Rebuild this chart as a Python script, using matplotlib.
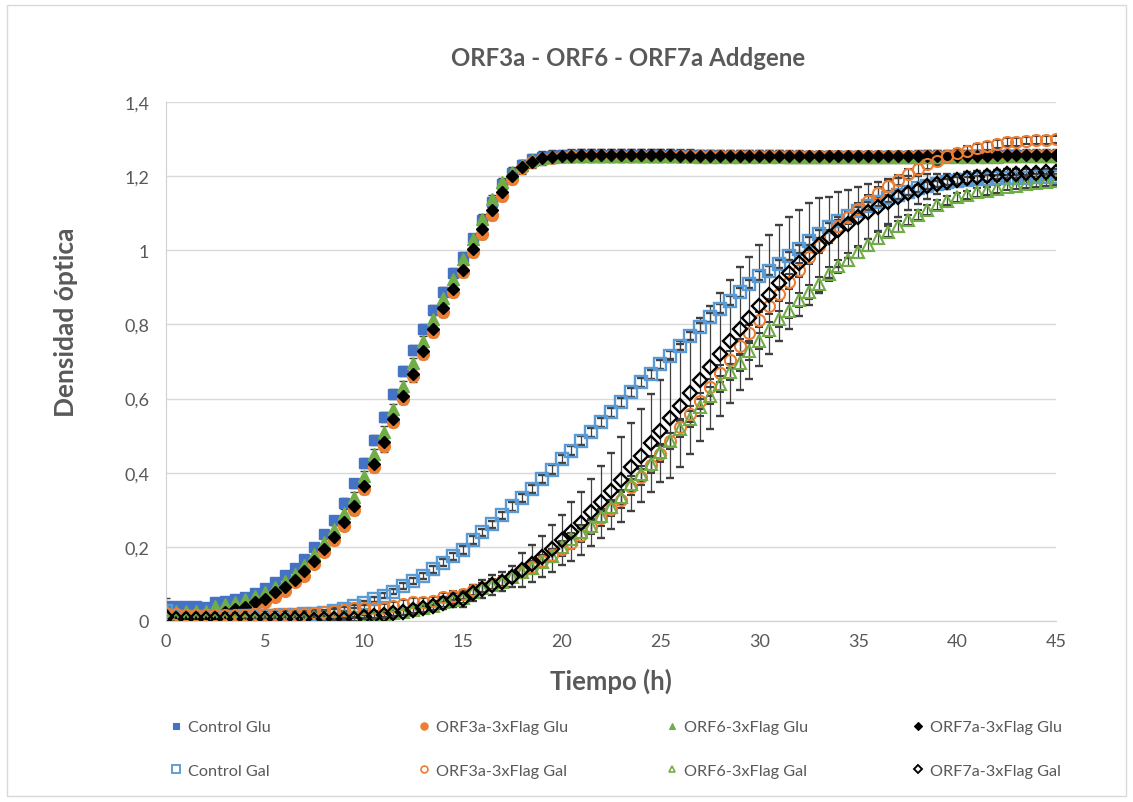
#%% imports
import numpy as np
import matplotlib
matplotlib.use("Agg")
import matplotlib.pyplot as plt
from matplotlib.patches import Rectangle
from matplotlib.lines import Line2D

#%% data: optical density every 0.5 h, 0-45 h
tiempo = np.arange(0, 45.5, 0.5)

control_glu = [
    0.041, 0.041, 0.040, 0.040, 0.038, 0.050, 0.054, 0.058, 0.065, 0.075,
    0.088, 0.105, 0.124, 0.144, 0.168, 0.200, 0.234, 0.272, 0.319, 0.371,
    0.427, 0.488, 0.551, 0.612, 0.674, 0.731, 0.787, 0.839, 0.888, 0.938,
    0.983, 1.032, 1.082, 1.131, 1.178, 1.208, 1.230, 1.246, 1.252, 1.255,
    1.256, 1.257, 1.257, 1.258, 1.258, 1.258, 1.258, 1.257, 1.257, 1.257,
    1.257, 1.256, 1.256, 1.256, 1.256, 1.256, 1.255, 1.255, 1.255, 1.255,
    1.255, 1.255, 1.255, 1.254, 1.254, 1.254, 1.254, 1.254, 1.254, 1.254,
    1.254, 1.254, 1.254, 1.254, 1.254, 1.254, 1.254, 1.255, 1.255, 1.255,
    1.255, 1.255, 1.256, 1.256, 1.256, 1.256, 1.256, 1.257, 1.257, 1.257,
    1.257]
orf3a_glu = [
    0.012, 0.008, 0.005, 0.005, 0.004, 0.003, 0.010, 0.020, 0.030, 0.040,
    0.050, 0.064, 0.082, 0.104, 0.122, 0.154, 0.185, 0.218, 0.257, 0.300,
    0.356, 0.415, 0.471, 0.536, 0.599, 0.660, 0.720, 0.779, 0.834, 0.887,
    0.941, 0.995, 1.044, 1.095, 1.146, 1.192, 1.221, 1.237, 1.246, 1.250,
    1.252, 1.253, 1.254, 1.254, 1.255, 1.255, 1.255, 1.255, 1.255, 1.255,
    1.255, 1.255, 1.255, 1.254, 1.254, 1.254, 1.254, 1.254, 1.254, 1.254,
    1.254, 1.254, 1.254, 1.254, 1.254, 1.253, 1.253, 1.253, 1.253, 1.253,
    1.253, 1.253, 1.253, 1.253, 1.253, 1.253, 1.254, 1.254, 1.254, 1.254,
    1.254, 1.254, 1.255, 1.255, 1.255, 1.255, 1.255, 1.256, 1.256, 1.256,
    1.256]
orf6_glu = [
    0.030, 0.028, 0.028, 0.027, 0.028, 0.040, 0.046, 0.050, 0.059, 0.067,
    0.077, 0.091, 0.109, 0.127, 0.151, 0.181, 0.212, 0.248, 0.290, 0.334,
    0.392, 0.450, 0.511, 0.572, 0.633, 0.696, 0.756, 0.815, 0.870, 0.923,
    0.977, 1.030, 1.084, 1.137, 1.183, 1.212, 1.230, 1.243, 1.250, 1.252,
    1.253, 1.254, 1.254, 1.254, 1.254, 1.254, 1.254, 1.253, 1.253, 1.253,
    1.253, 1.253, 1.253, 1.253, 1.252, 1.252, 1.252, 1.252, 1.252, 1.252,
    1.252, 1.252, 1.252, 1.251, 1.251, 1.251, 1.251, 1.251, 1.251, 1.251,
    1.251, 1.251, 1.251, 1.251, 1.251, 1.251, 1.251, 1.251, 1.252, 1.252,
    1.252, 1.252, 1.252, 1.252, 1.252, 1.253, 1.253, 1.253, 1.253, 1.253,
    1.253]
orf7a_glu = [
    0.015, 0.012, 0.010, 0.010, 0.010, 0.016, 0.025, 0.032, 0.037, 0.052,
    0.059, 0.077, 0.091, 0.111, 0.136, 0.163, 0.194, 0.226, 0.266, 0.311,
    0.365, 0.424, 0.482, 0.545, 0.606, 0.666, 0.729, 0.788, 0.843, 0.896,
    0.948, 1.003, 1.057, 1.110, 1.158, 1.200, 1.224, 1.239, 1.248, 1.252,
    1.254, 1.255, 1.256, 1.256, 1.256, 1.256, 1.256, 1.256, 1.256, 1.256,
    1.256, 1.256, 1.255, 1.255, 1.255, 1.255, 1.255, 1.255, 1.255, 1.255,
    1.255, 1.255, 1.255, 1.255, 1.255, 1.254, 1.254, 1.254, 1.254, 1.254,
    1.254, 1.254, 1.254, 1.254, 1.254, 1.254, 1.255, 1.255, 1.255, 1.255,
    1.255, 1.255, 1.255, 1.255, 1.256, 1.256, 1.256, 1.256, 1.256, 1.256,
    1.256]
control_gal = [
    0.027, 0.012, 0.010, 0.010, 0.010, 0.011, 0.012, 0.012, 0.013, 0.013,
    0.014, 0.014, 0.015, 0.016, 0.018, 0.020, 0.022, 0.026, 0.032, 0.040,
    0.049, 0.058, 0.068, 0.079, 0.095, 0.108, 0.121, 0.139, 0.157, 0.174,
    0.191, 0.219, 0.239, 0.261, 0.285, 0.309, 0.332, 0.356, 0.382, 0.408,
    0.437, 0.459, 0.486, 0.509, 0.536, 0.563, 0.590, 0.617, 0.644, 0.666,
    0.693, 0.716, 0.743, 0.770, 0.792, 0.819, 0.842, 0.864, 0.887, 0.909,
    0.931, 0.945, 0.963, 0.985, 1.003, 1.026, 1.044, 1.062, 1.080, 1.093,
    1.107, 1.120, 1.129, 1.140, 1.149, 1.158, 1.167, 1.174, 1.179, 1.184,
    1.188, 1.190, 1.192, 1.193, 1.194, 1.195, 1.196, 1.196, 1.197, 1.197,
    1.198]
orf3a_gal = [
    0.022, 0.018, 0.015, 0.015, 0.015, 0.015, 0.016, 0.016, 0.017, 0.018,
    0.018, 0.019, 0.019, 0.020, 0.020, 0.021, 0.023, 0.027, 0.031, 0.034,
    0.036, 0.036, 0.036, 0.041, 0.046, 0.050, 0.052, 0.055, 0.064, 0.068,
    0.072, 0.084, 0.090, 0.100, 0.108, 0.118, 0.131, 0.145, 0.163, 0.177,
    0.193, 0.211, 0.232, 0.253, 0.277, 0.302, 0.327, 0.361, 0.388, 0.421,
    0.450, 0.486, 0.523, 0.558, 0.594, 0.630, 0.668, 0.705, 0.741, 0.777,
    0.813, 0.849, 0.882, 0.915, 0.948, 0.981, 1.011, 1.038, 1.065, 1.089,
    1.111, 1.134, 1.155, 1.174, 1.190, 1.206, 1.219, 1.233, 1.242, 1.253,
    1.262, 1.269, 1.275, 1.282, 1.287, 1.291, 1.293, 1.296, 1.297, 1.298,
    1.299]
orf6_gal = [
    0.010, 0.006, 0.005, 0.005, 0.005, 0.005, 0.005, 0.005, 0.006, 0.006,
    0.007, 0.007, 0.008, 0.008, 0.009, 0.010, 0.011, 0.012, 0.013, 0.014,
    0.015, 0.016, 0.018, 0.022, 0.025, 0.031, 0.034, 0.040, 0.050, 0.057,
    0.061, 0.078, 0.088, 0.097, 0.106, 0.118, 0.131, 0.143, 0.158, 0.176,
    0.199, 0.221, 0.241, 0.257, 0.284, 0.307, 0.334, 0.370, 0.397, 0.424,
    0.455, 0.486, 0.518, 0.545, 0.576, 0.608, 0.639, 0.671, 0.696, 0.727,
    0.756, 0.786, 0.815, 0.837, 0.866, 0.888, 0.909, 0.936, 0.957, 0.975,
    0.995, 1.014, 1.033, 1.050, 1.065, 1.082, 1.095, 1.109, 1.122, 1.134,
    1.143, 1.149, 1.156, 1.161, 1.165, 1.172, 1.174, 1.179, 1.182, 1.183,
    1.186]
orf7a_gal = [
    0.012, 0.006, 0.006, 0.006, 0.006, 0.006, 0.006, 0.006, 0.006, 0.006,
    0.006, 0.006, 0.006, 0.006, 0.005, 0.004, 0.005, 0.005, 0.006, 0.005,
    0.010, 0.013, 0.015, 0.022, 0.025, 0.031, 0.034, 0.040, 0.048, 0.057,
    0.059, 0.076, 0.086, 0.097, 0.106, 0.120, 0.138, 0.154, 0.173, 0.195,
    0.218, 0.241, 0.264, 0.293, 0.322, 0.351, 0.381, 0.416, 0.446, 0.480,
    0.513, 0.547, 0.581, 0.615, 0.651, 0.684, 0.720, 0.754, 0.788, 0.817,
    0.851, 0.880, 0.911, 0.939, 0.966, 0.990, 1.014, 1.035, 1.056, 1.071,
    1.089, 1.104, 1.118, 1.131, 1.143, 1.155, 1.163, 1.173, 1.179, 1.185,
    1.190, 1.195, 1.199, 1.201, 1.204, 1.206, 1.207, 1.208, 1.209, 1.210,
    1.210]

#%% error bars (standard deviation)
err_glu = [
    0.020, 0.010, 0.008, 0.008, 0.008, 0.008, 0.008, 0.008, 0.008, 0.008,
    0.008, 0.008, 0.009, 0.009, 0.010, 0.010, 0.011, 0.012, 0.012, 0.013,
    0.013, 0.013, 0.014, 0.014, 0.014, 0.014, 0.014, 0.014, 0.013, 0.013,
    0.013, 0.013, 0.013, 0.013, 0.013, 0.014, 0.014, 0.015, 0.015, 0.015,
    0.015, 0.016, 0.016, 0.016, 0.016, 0.016, 0.016, 0.016, 0.016, 0.016,
    0.016, 0.016, 0.016, 0.016, 0.015, 0.015, 0.015, 0.015, 0.015, 0.015,
    0.015, 0.015, 0.015, 0.015, 0.015, 0.015, 0.015, 0.015, 0.015, 0.015,
    0.015, 0.015, 0.015, 0.015, 0.015, 0.015, 0.015, 0.015, 0.015, 0.015,
    0.015, 0.015, 0.015, 0.015, 0.015, 0.015, 0.015, 0.015, 0.015, 0.015,
    0.015]
err_control_gal = [
    0.015, 0.006, 0.005, 0.005, 0.005, 0.005, 0.005, 0.005, 0.005, 0.005,
    0.005, 0.005, 0.005, 0.005, 0.005, 0.005, 0.005, 0.006, 0.006, 0.006,
    0.006, 0.006, 0.007, 0.007, 0.008, 0.008, 0.008, 0.009, 0.009, 0.009,
    0.010, 0.010, 0.010, 0.010, 0.010, 0.011, 0.011, 0.011, 0.011, 0.012,
    0.012, 0.012, 0.012, 0.012, 0.012, 0.012, 0.012, 0.012, 0.012, 0.012,
    0.012, 0.012, 0.012, 0.012, 0.012, 0.012, 0.012, 0.012, 0.012, 0.012,
    0.012, 0.012, 0.011, 0.011, 0.011, 0.011, 0.011, 0.011, 0.011, 0.010,
    0.010, 0.010, 0.010, 0.010, 0.010, 0.010, 0.010, 0.009, 0.009, 0.009,
    0.009, 0.009, 0.009, 0.009, 0.008, 0.008, 0.008, 0.008, 0.008, 0.008,
    0.008]
err_orf3a_gal = [
    0.012, 0.008, 0.008, 0.008, 0.008, 0.008, 0.008, 0.008, 0.008, 0.008,
    0.008, 0.008, 0.008, 0.008, 0.008, 0.008, 0.008, 0.009, 0.009, 0.009,
    0.009, 0.010, 0.010, 0.010, 0.010, 0.011, 0.011, 0.011, 0.012, 0.012,
    0.012, 0.013, 0.013, 0.014, 0.014, 0.015, 0.015, 0.016, 0.016, 0.017,
    0.018, 0.018, 0.019, 0.019, 0.020, 0.020, 0.021, 0.021, 0.022, 0.022,
    0.022, 0.022, 0.022, 0.022, 0.022, 0.022, 0.022, 0.022, 0.021, 0.021,
    0.021, 0.020, 0.020, 0.020, 0.019, 0.019, 0.018, 0.018, 0.017, 0.017,
    0.016, 0.016, 0.015, 0.015, 0.014, 0.014, 0.013, 0.013, 0.012, 0.012,
    0.012, 0.012, 0.011, 0.011, 0.011, 0.011, 0.011, 0.010, 0.010, 0.010,
    0.010]
err_orf6_gal = [
    0.008, 0.006, 0.006, 0.006, 0.006, 0.006, 0.006, 0.006, 0.006, 0.006,
    0.006, 0.006, 0.006, 0.006, 0.006, 0.006, 0.006, 0.007, 0.007, 0.007,
    0.007, 0.008, 0.008, 0.008, 0.009, 0.009, 0.010, 0.010, 0.011, 0.011,
    0.012, 0.012, 0.013, 0.013, 0.014, 0.014, 0.015, 0.015, 0.016, 0.016,
    0.017, 0.017, 0.018, 0.018, 0.019, 0.019, 0.020, 0.020, 0.021, 0.021,
    0.022, 0.022, 0.022, 0.022, 0.022, 0.022, 0.022, 0.022, 0.022, 0.022,
    0.021, 0.021, 0.021, 0.020, 0.020, 0.019, 0.019, 0.018, 0.018, 0.017,
    0.017, 0.016, 0.016, 0.015, 0.015, 0.014, 0.014, 0.013, 0.013, 0.012,
    0.012, 0.012, 0.011, 0.011, 0.011, 0.010, 0.010, 0.010, 0.010, 0.010,
    0.010]
err_orf7a_gal = [
    0.010, 0.006, 0.005, 0.005, 0.005, 0.005, 0.005, 0.005, 0.005, 0.005,
    0.005, 0.005, 0.005, 0.005, 0.005, 0.005, 0.005, 0.006, 0.006, 0.006,
    0.007, 0.008, 0.008, 0.010, 0.010, 0.012, 0.012, 0.014, 0.016, 0.018,
    0.020, 0.022, 0.024, 0.026, 0.026, 0.028, 0.045, 0.050, 0.055, 0.063,
    0.067, 0.079, 0.085, 0.090, 0.097, 0.103, 0.115, 0.119, 0.126, 0.133,
    0.137, 0.160, 0.166, 0.164, 0.166, 0.166, 0.166, 0.166, 0.166, 0.164,
    0.162, 0.160, 0.157, 0.151, 0.142, 0.137, 0.128, 0.110, 0.101, 0.092,
    0.081, 0.074, 0.065, 0.061, 0.053, 0.045, 0.038, 0.034, 0.027, 0.020,
    0.016, 0.015, 0.014, 0.013, 0.012, 0.012, 0.011, 0.011, 0.010, 0.010,
    0.010]

labels = ["Control Glu", "ORF3a-3xFlag Glu", "ORF6-3xFlag Glu", "ORF7a-3xFlag Glu",
          "Control Gal", "ORF3a-3xFlag Gal", "ORF6-3xFlag Gal", "ORF7a-3xFlag Gal"]
y_ticks = [0, 0.2, 0.4, 0.6, 0.8, 1.0, 1.2, 1.4]
y_tick_labels = ["0", "0,2", "0,4", "0,6", "0,8", "1", "1,2", "1,4"]
x_ticks = [0, 5, 10, 15, 20, 25, 30, 35, 40, 45]

#%% styles
plt.rcParams['font.family'] = ['Lato', 'DejaVu Sans']
gray_txt = "#595959"
series = [
    (control_glu, err_glu, dict(marker="s", ms=7.5, mfc="#4472C4", mec="#4472C4", mew=1)),
    (orf3a_glu, err_glu, dict(marker="o", ms=8.5, mfc="#ED7D31", mec="#ED7D31", mew=1)),
    (orf6_glu, err_glu, dict(marker="^", ms=8, mfc="#70AD47", mec="#70AD47", mew=1)),
    (orf7a_glu, err_glu, dict(marker="D", ms=6.5, mfc="black", mec="black", mew=1)),
    (control_gal, err_control_gal, dict(marker="s", ms=8.5, mfc="none", mec="#5B9BD5", mew=1.7)),
    (orf3a_gal, err_orf3a_gal, dict(marker="o", ms=8, mfc="none", mec="#ED7D31", mew=1.5)),
    (orf6_gal, err_orf6_gal, dict(marker="^", ms=8, mfc="none", mec="#70AD47", mew=1.5)),
    (orf7a_gal, err_orf7a_gal, dict(marker="D", ms=7, mfc="none", mec="black", mew=1.7)),
]

#%% plot
fig = plt.figure(figsize=(11.33, 8.03), dpi=100)
ax = fig.add_axes([166 / 1133, 1 - 622 / 803, (1056 - 166) / 1133, (622 - 103) / 803])

for vals, err, st in series:
    ax.errorbar(tiempo, vals, yerr=err, linestyle="none", ecolor="#404040",
                elinewidth=0.9, capsize=3, capthick=0.9, **st)

ax.set_xlim(0, 45)
ax.set_ylim(0, 1.4)
ax.set_xticks(x_ticks)
ax.set_yticks(y_ticks)
ax.set_yticklabels(y_tick_labels)
ax.tick_params(length=0, labelsize=13, labelcolor=gray_txt)
ax.tick_params(axis="x", pad=9)
ax.tick_params(axis="y", pad=12)
ax.grid(axis="y", color="#D9D9D9", linewidth=1)
ax.set_axisbelow(True)
for s in ["top", "right"]:
    ax.spines[s].set_visible(False)
ax.spines["left"].set_color("#D0D0D0")
ax.spines["bottom"].set_color("#D0D0D0")

fig.text(628 / 1133, 1 - 58 / 803, "ORF3a - ORF6 - ORF7a Addgene", ha="center", va="center",
         fontsize=17.3, fontweight="bold", color=gray_txt)
fig.text(611 / 1133, 1 - 681 / 803, "Tiempo (h)", ha="center", va="center",
         fontsize=18.5, fontweight="bold", color=gray_txt)
fig.text(66 / 1133, 1 - 322 / 803, "Densidad óptica", ha="center", va="center",
         rotation=90, fontsize=19, fontweight="bold", color=gray_txt)

# legend: four columns, Glu on top row, Gal below
col_x = [170, 418, 666, 912]
for k in range(4):
    hs = []
    for j in (k, k + 4):
        st = dict(series[j][2])
        st["ms"] = st["ms"] * 0.62
        st["mew"] = st["mew"] * 0.8
        hs.append(Line2D([], [], linestyle="none", **st))
    fig.legend(hs, [labels[k], labels[k + 4]], loc="upper left",
               bbox_to_anchor=(col_x[k] / 1133, 1 - 721 / 803), frameon=False,
               fontsize=11.7, labelcolor=gray_txt, handlelength=0.7, handletextpad=0.4,
               labelspacing=1.78, borderpad=0, borderaxespad=0)

fig.patches.append(Rectangle((7 / 1133, 6 / 803), 1119 / 1133, 791 / 803,
                             transform=fig.transFigure, fill=False,
                             edgecolor="#D9D9D9", linewidth=1))

fig.savefig("out.png", dpi=100)
